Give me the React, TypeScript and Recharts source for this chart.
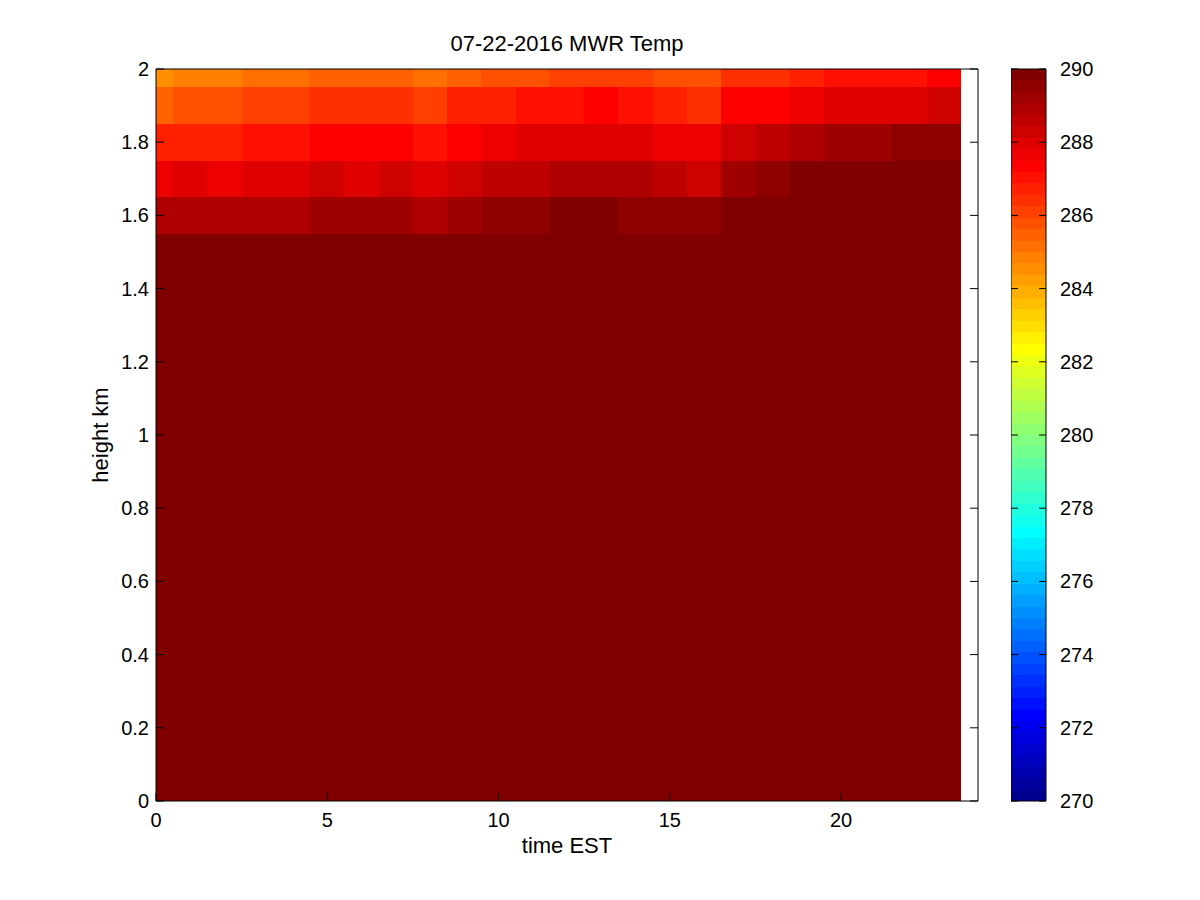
import React from "react";
import { ComposedChart, XAxis, YAxis, ReferenceArea, Scatter } from "recharts";

// hourly columns (EST), rows at 0.1 km spacing near the top of the profile
const hours = [0, 1, 2, 3, 4, 5, 6, 7, 8, 9, 10, 11, 12, 13, 14, 15, 16, 17, 18, 19, 20, 21, 22, 23];
const rowHeights = [2.0, 1.9, 1.8, 1.7, 1.6];

// temperature (K) per hour at each level
const temp2000 = [284.5, 284.8, 284.8, 285.2, 285.2, 285.5, 285.5, 285.5, 285.2, 285.5, 285.8, 285.8, 286.1, 286.1, 286.1, 285.8, 285.8, 286.4, 286.4, 286.7, 287.0, 287.0, 287.0, 287.3];
const temp1900 = [285.5, 285.8, 285.8, 286.1, 286.1, 286.4, 286.4, 286.4, 286.1, 286.7, 286.7, 287.0, 287.0, 287.3, 287.0, 286.7, 286.4, 287.3, 287.3, 287.7, 288.0, 288.0, 288.0, 288.3];
const temp1800 = [286.7, 286.7, 286.7, 287.0, 287.0, 287.3, 287.3, 287.3, 287.0, 287.3, 287.7, 288.0, 288.0, 288.0, 288.0, 287.7, 287.7, 288.3, 288.6, 288.9, 289.2, 289.2, 289.5, 289.5];
const temp1700 = [287.7, 288.0, 287.7, 288.0, 288.0, 288.3, 288.0, 288.3, 288.0, 288.3, 288.6, 288.6, 288.9, 288.9, 288.9, 288.6, 288.3, 289.2, 289.5, 289.9, 289.9, 289.9, 289.9, 289.9];
const temp1600 = [288.9, 288.9, 288.9, 288.9, 288.9, 289.2, 289.2, 289.2, 288.9, 289.2, 289.5, 289.5, 289.9, 289.9, 289.5, 289.5, 289.5, 289.9, 289.9, 289.9, 289.9, 289.9, 289.9, 289.9];
// everything below 1.55 km is at or above the top of the colour scale
const lowBandTop = 1.55;
const tempLow = [290, 290, 290, 290, 290, 290, 290, 290, 290, 290, 290, 290, 290, 290, 290, 290, 290, 290, 290, 290, 290, 290, 290, 290];

const xTicks = [0, 5, 10, 15, 20];
const yTicks = [0, 0.2, 0.4, 0.6, 0.8, 1, 1.2, 1.4, 1.6, 1.8, 2];
const cbTicks = [270, 272, 274, 276, 278, 280, 282, 284, 286, 288, 290];

const CMIN = 270;
const CMAX = 290;
const NCOL = 64;
const FONT = "'Liberation Sans', Arial, sans-serif";
const FS = 20; // tick labels
const LFS = 22; // title and axis labels
const TL = 8; // inner tick length

// MATLAB jet(64)
function jet(v: number) {
  let i = Math.floor(((v - CMIN) / (CMAX - CMIN)) * NCOL) + 1;
  i = Math.max(1, Math.min(NCOL, i));
  const r = i <= 24 ? 0 : i <= 40 ? (i - 24) / 16 : i <= 55 ? 1 : (72 - i) / 16;
  const g = i <= 8 ? 0 : i <= 24 ? (i - 8) / 16 : i <= 39 ? 1 : i <= 55 ? (56 - i) / 16 : 0;
  const b = i <= 8 ? (i + 8) / 16 : i <= 23 ? 1 : i <= 39 ? (40 - i) / 16 : 0;
  const c = (n: number) => Math.round(n * 255);
  return `rgb(${c(r)},${c(g)},${c(b)})`;
}

const rows = [temp2000, temp1900, temp1800, temp1700, temp1600];

type Cell = { x1: number; x2: number; y1: number; y2: number; fill: string; cx: number; cy: number };
const cells: Cell[] = [];
rows.forEach((temps, r) => {
  const h = rowHeights[r];
  temps.forEach((t, c) => {
    cells.push({
      x1: Math.max(0, hours[c] - 0.5),
      x2: Math.min(24, hours[c] + 0.5),
      y1: Math.max(0, h - 0.05),
      y2: Math.min(2, h + 0.05),
      fill: jet(t),
      cx: hours[c],
      cy: h,
    });
  });
});
tempLow.forEach((t, c) => {
  cells.push({
    x1: Math.max(0, hours[c] - 0.5),
    x2: Math.min(24, hours[c] + 0.5),
    y1: 0,
    y2: lowBandTop,
    fill: jet(t),
    cx: hours[c],
    cy: lowBandTop / 2,
  });
});

const cbLevels = Array.from({ length: NCOL }, (_, k) => {
  const lo = CMIN + (k * (CMAX - CMIN)) / NCOL;
  const hi = CMIN + ((k + 1) * (CMAX - CMIN)) / NCOL;
  return { lo, hi, x: 0.5, fill: jet((lo + hi) / 2) };
});

const fmt = (v: number) => String(Number(v.toFixed(1)));

const LeftTick = (p: any) => (
  <g>
    <line x1={p.x + 7} x2={p.x + 7 + TL} y1={p.y} y2={p.y} stroke="#000" />
    <text x={p.x} y={p.y} dy="0.35em" textAnchor="end" fontFamily={FONT} fontSize={FS} fill="#000">
      {fmt(p.payload.value)}
    </text>
  </g>
);

const BottomTick = (p: any) => (
  <g>
    <line x1={p.x} x2={p.x} y1={p.y - 11} y2={p.y - 11 - TL} stroke="#000" />
    <text x={p.x} y={p.y} dy="0.75em" textAnchor="middle" fontFamily={FONT} fontSize={FS} fill="#000">
      {p.payload.value}
    </text>
  </g>
);

const TopTick = (p: any) => <line x1={p.x} x2={p.x} y1={p.y} y2={p.y + TL} stroke="#000" />;
const RightTick = (p: any) => <line x1={p.x} x2={p.x - TL} y1={p.y} y2={p.y} stroke="#000" />;

const CbTick = (p: any) => {
  const right = p.x - 14;
  const left = right - 35;
  return (
    <g>
      <line x1={right} x2={right - 7} y1={p.y} y2={p.y} stroke="#000" />
      <line x1={left} x2={left + 7} y1={p.y} y2={p.y} stroke="#000" />
      <text x={p.x} y={p.y} dy="0.35em" textAnchor="start" fontFamily={FONT} fontSize={FS} fill="#000">
        {p.payload.value}
      </text>
    </g>
  );
};

export default function App() {
  return (
    <div style={{ position: "absolute", left: 0, top: 0, width: 1200, height: 900, background: "#fff" }}>
      <div
        style={{
          position: "absolute",
          left: 0,
          top: 30,
          width: 1134,
          textAlign: "center",
          fontFamily: FONT,
          fontSize: LFS,
          lineHeight: "28px",
          color: "#000",
        }}
      >
        07-22-2016 MWR Temp
      </div>

      <div style={{ position: "absolute", left: 0, top: 0 }}>
        <ComposedChart width={1200} height={900} margin={{ top: 68, right: 221, bottom: 43, left: 96 }}>
          {cells.map((c, i) => (
            <ReferenceArea
              key={i}
              x1={c.x1}
              x2={c.x2}
              y1={c.y1}
              y2={c.y2}
              fill={c.fill}
              fillOpacity={1}
              stroke="none"
              shapeRendering="crispEdges"
            />
          ))}
          <Scatter data={cells} dataKey="cy" shape={() => <g />} isAnimationActive={false} />
          <XAxis
            dataKey="cx"
            type="number"
            domain={[0, 24]}
            ticks={xTicks}
            allowDataOverflow
            height={56}
            tickSize={0}
            tickLine={false}
            tickMargin={11}
            tick={BottomTick}
            axisLine={{ stroke: "#000" }}
            label={{
              content: (lp: any) => (
                <text
                  x={lp.viewBox.x + lp.viewBox.width / 2}
                  y={853}
                  textAnchor="middle"
                  fontFamily={FONT}
                  fontSize={LFS}
                  fill="#000"
                >
                  time EST
                </text>
              ),
            }}
          />
          <XAxis
            xAxisId="top"
            orientation="top"
            type="number"
            domain={[0, 24]}
            ticks={xTicks}
            allowDataOverflow
            height={1}
            tickSize={0}
            tickLine={false}
            tickMargin={0}
            tick={TopTick}
            axisLine={{ stroke: "#000" }}
          />
          <YAxis
            dataKey="cy"
            type="number"
            domain={[0, 2]}
            ticks={yTicks}
            allowDataOverflow
            width={60}
            tickSize={0}
            tickLine={false}
            tickMargin={7}
            tick={LeftTick}
            axisLine={{ stroke: "#000" }}
            label={{
              content: (lp: any) => {
                const cx = 100;
                const cy = lp.viewBox.y + lp.viewBox.height / 2;
                return (
                  <text
                    x={cx}
                    y={cy}
                    transform={`rotate(-90, ${cx}, ${cy})`}
                    textAnchor="middle"
                    dominantBaseline="central"
                    fontFamily={FONT}
                    fontSize={LFS}
                    fill="#000"
                  >
                    height km
                  </text>
                );
              },
            }}
          />
          <YAxis
            yAxisId="right"
            orientation="right"
            type="number"
            domain={[0, 2]}
            ticks={yTicks}
            allowDataOverflow
            width={1}
            tickSize={0}
            tickLine={false}
            tickMargin={0}
            tick={RightTick}
            axisLine={{ stroke: "#000" }}
          />
        </ComposedChart>
      </div>

      {/* colour bar */}
      <div style={{ position: "absolute", left: 1011, top: 0 }}>
        <ComposedChart width={95} height={900} margin={{ top: 69, right: 0, bottom: 99, left: 0 }}>
          {cbLevels.map((l, i) => (
            <ReferenceArea
              key={i}
              x1={0}
              x2={1}
              y1={l.lo}
              y2={l.hi}
              fill={l.fill}
              fillOpacity={1}
              stroke="none"
              shapeRendering="crispEdges"
            />
          ))}
          <ReferenceArea x1={0} x2={1} y1={CMIN} y2={CMAX} fill="none" stroke="#000" strokeWidth={1} />
          <Scatter data={cbLevels} dataKey="lo" shape={() => <g />} isAnimationActive={false} />
          <XAxis
            dataKey="x"
            type="number"
            domain={[0, 1]}
            allowDataOverflow
            height={0}
            tick={false}
            tickLine={false}
            axisLine={false}
          />
          <YAxis
            orientation="right"
            type="number"
            domain={[CMIN, CMAX]}
            ticks={cbTicks}
            allowDataOverflow
            width={60}
            tickSize={0}
            tickLine={false}
            tickMargin={14}
            tick={CbTick}
            axisLine={false}
          />
        </ComposedChart>
      </div>
    </div>
  );
}
